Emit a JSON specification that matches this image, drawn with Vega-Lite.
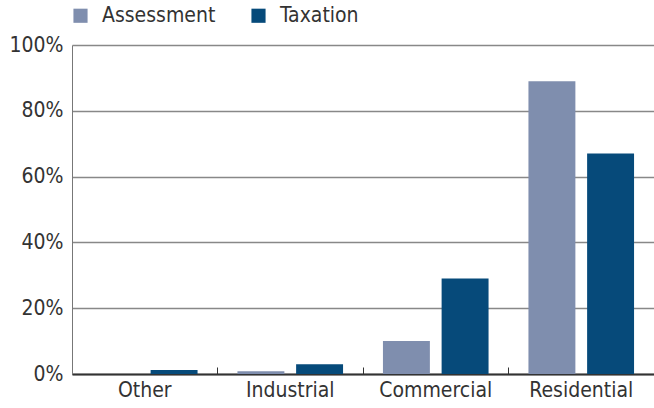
{
  "$schema": "https://vega.github.io/schema/vega-lite/v6.json",
  "width": 582,
  "height": 329,
  "autosize": {"type": "none"},
  "padding": {"left": 72, "top": 45, "right": 0, "bottom": 34},
  "background": "white",
  "data": {
    "values": [
      {"category": "Other", "series": "Assessment", "value": 0.0},
      {"category": "Other", "series": "Taxation", "value": 1.2},
      {"category": "Industrial", "series": "Assessment", "value": 0.8},
      {"category": "Industrial", "series": "Taxation", "value": 3.0},
      {"category": "Commercial", "series": "Assessment", "value": 10.0},
      {"category": "Commercial", "series": "Taxation", "value": 29.0},
      {"category": "Residential", "series": "Assessment", "value": 89.0},
      {"category": "Residential", "series": "Taxation", "value": 67.0}
    ]
  },
  "config": {
    "font": "DejaVu Sans Condensed",
    "view": {"stroke": null}
  },
  "layer": [
    {
      "mark": {"type": "bar"},
      "encoding": {
        "x": {
          "field": "category",
          "type": "nominal",
          "sort": ["Other", "Industrial", "Commercial", "Residential"],
          "scale": {"paddingInner": 0, "paddingOuter": 0},
          "axis": {
            "title": null,
            "labelAngle": 0,
            "labelFontSize": 21,
            "labelColor": "#333333",
            "labelPadding": 12,
            "bandPosition": 0,
            "tickSize": -7,
            "tickColor": "#333333",
            "tickWidth": 1,
            "domainColor": "#333333",
            "domainWidth": 2,
            "grid": false
          }
        },
        "xOffset": {
          "field": "series",
          "type": "nominal",
          "scale": {"paddingInner": 0.2, "paddingOuter": 0.34}
        },
        "y": {
          "field": "value",
          "type": "quantitative",
          "scale": {"domain": [0, 100], "nice": false},
          "axis": {
            "title": null,
            "values": [0, 20, 40, 60, 80, 100],
            "labelExpr": "datum.value + '%'",
            "labelFontSize": 21,
            "labelColor": "#333333",
            "labelPadding": 9,
            "ticks": false,
            "domainColor": "#777777",
            "domainWidth": 1,
            "gridColor": "#888888",
            "gridWidth": 1.5
          }
        },
        "color": {
          "field": "series",
          "type": "nominal",
          "scale": {"domain": ["Assessment", "Taxation"], "range": ["#7f8eae", "#064a7a"]},
          "legend": {
            "title": null,
            "orient": "none",
            "direction": "horizontal",
            "legendX": -2,
            "legendY": -40,
            "symbolType": "square",
            "symbolSize": 200,
            "labelFontSize": 21,
            "labelColor": "#333333",
            "columnPadding": 32,
            "labelOffset": 11
          }
        }
      }
    }
  ]
}
